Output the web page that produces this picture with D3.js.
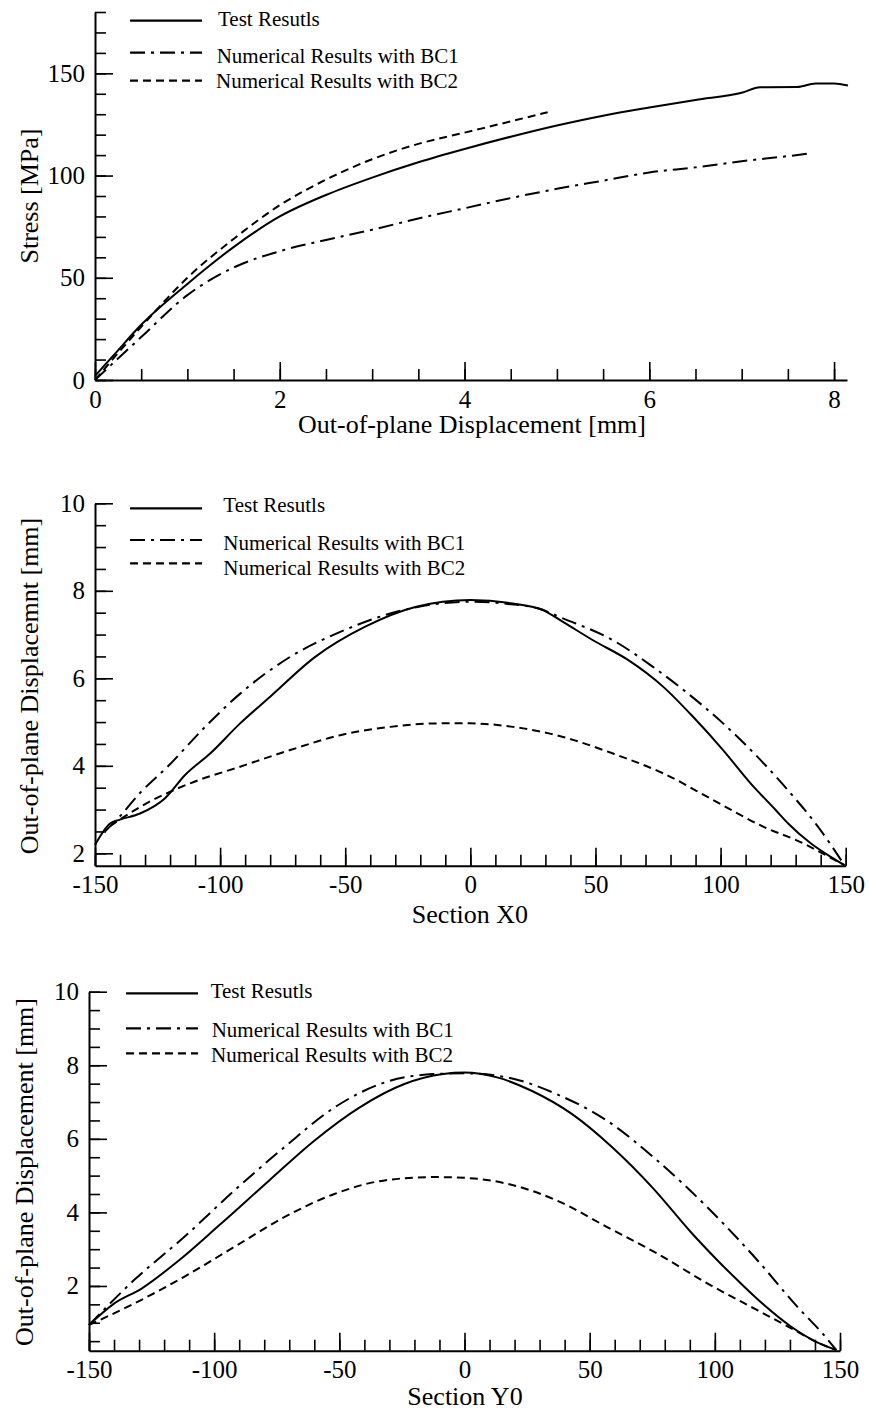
<!DOCTYPE html>
<html>
<head>
<meta charset="utf-8">
<script src="https://cdn.jsdelivr.net/npm/d3@7"></script>
<style>
  body { margin: 0; background: #fff; }
  svg { display: block; background: #fff; }
  text { font-family: "Liberation Serif", "Times New Roman", serif; fill: #000; }
</style>
</head>
<body>
<svg id="chart" width="870" height="1412"></svg>
<script>
// ---- Stress vs. out-of-plane displacement ----
const stressTestX = [0, 0.1, 0.2, 0.5, 1.0, 1.5, 2.0, 2.5, 3.0, 3.5, 4.0, 4.5, 5.0, 5.5, 6.0, 6.5, 7.0, 7.2, 7.6, 7.8, 8.0, 8.15];
const stressTestY = [2, 7, 12, 27, 47, 65, 80, 90.5, 99, 106.5, 113, 119, 124.5, 129.3, 133.3, 137, 140.5, 143.2, 143.3, 145, 145, 144];
const stressBc1X  = [0, 0.5, 1.0, 1.5, 2.0, 2.5, 3.0, 3.5, 4.0, 4.5, 5.0, 5.5, 6.0, 6.5, 7.0, 7.5, 7.77];
const stressBc1Y  = [0, 21, 41.5, 55, 63, 68.5, 73.5, 79, 84, 89, 93.5, 97.5, 101.5, 104, 107, 109.5, 111];
const stressBc2X  = [0, 0.5, 1.0, 1.5, 2.0, 2.5, 3.0, 3.5, 4.0, 4.5, 4.9];
const stressBc2Y  = [0, 26, 50, 69, 85.5, 98, 108, 115.5, 121, 126.5, 131];

// ---- Deflection along section X0 ----
const secX0TestX = [-150, -144, -140, -132, -122, -114, -104, -92, -80, -62, -42, -22, 0, 17, 29, 37, 49, 63, 77, 89, 101, 112, 122, 127, 136, 144, 149.5];
const secX0TestY = [2.19, 2.68, 2.77, 2.91, 3.26, 3.79, 4.28, 4.97, 5.58, 6.49, 7.18, 7.63, 7.79, 7.71, 7.56, 7.29, 6.87, 6.42, 5.81, 5.12, 4.36, 3.6, 2.99, 2.68, 2.23, 1.92, 1.73];
const secX0Bc1X  = [-146, -140, -132, -121, -106, -92, -72, -52, -32, -12, 0, 15, 27, 37, 57, 73, 87, 101, 116, 128, 138, 149.5];
const secX0Bc1Y  = [2.5, 2.85, 3.38, 3.98, 4.89, 5.65, 6.49, 7.06, 7.48, 7.71, 7.75, 7.7, 7.6, 7.37, 6.87, 6.26, 5.65, 4.97, 4.13, 3.37, 2.68, 1.73];
const secX0Bc2X  = [-144, -132, -112, -92, -72, -52, -32, -12, 0, 17, 37, 57, 77, 97, 117, 133, 142, 149.5];
const secX0Bc2Y  = [2.62, 3.06, 3.6, 3.98, 4.36, 4.70, 4.89, 4.97, 4.97, 4.89, 4.66, 4.28, 3.83, 3.22, 2.61, 2.23, 1.96, 1.73];

// ---- Deflection along section Y0 ----
const secY0TestX = [-150, -140, -129, -114, -98, -78, -60, -42, -24, -8.5, 0, 13, 27, 43, 59, 75, 91, 101, 109, 119, 130.5, 140.5, 148.5];
const secY0TestY = [0.94, 1.52, 1.93, 2.70, 3.65, 4.87, 5.95, 6.85, 7.49, 7.76, 7.8, 7.67, 7.3, 6.67, 5.77, 4.68, 3.42, 2.7, 2.16, 1.52, 0.89, 0.48, 0.26];
const secY0Bc1X  = [-150, -132, -112, -92, -72, -52, -32, -12.5, 0, 17, 37, 57, 77, 97, 117, 133, 143, 148.5];
const secY0Bc1Y  = [0.94, 2.16, 3.33, 4.59, 5.77, 6.85, 7.53, 7.76, 7.78, 7.67, 7.21, 6.49, 5.41, 4.14, 2.7, 1.43, 0.71, 0.26];
const secY0Bc2X  = [-150, -132, -112, -92, -72, -52, -32, -12.5, 0, 17, 37, 57, 77, 97, 117, 130.5, 140.5, 148.5];
const secY0Bc2Y  = [0.94, 1.52, 2.25, 3.06, 3.87, 4.5, 4.87, 4.96, 4.94, 4.78, 4.32, 3.6, 2.88, 2.07, 1.34, 0.85, 0.48, 0.26];

// ---- Labels and tick values ----
const seriesNames   = ["Test Resutls", "Numerical Results with BC1", "Numerical Results with BC2"];
const dispMajor     = [0, 2, 4, 6, 8];
const dispMinor     = d3.range(0, 8.01, 0.5);
const stressMajor   = [0, 50, 100, 150];
const stressMinor   = d3.range(0, 181, 10);
const sectionMajor  = [-150, -100, -50, 0, 50, 100, 150];
const sectionMinor  = d3.range(-150, 151, 10);
const deflMajor     = [2, 4, 6, 8, 10];

// line styles: solid, dash-dot, dashed
const dashes = [null, "15,6,3,6", "8,5"];

const svg = d3.select("#chart");

function drawPanel(o) {
  const g = svg.append("g");
  const x = d3.scaleLinear().domain(o.xDomain).range([o.left, o.right]);
  const y = d3.scaleLinear().domain(o.yDomain).range([o.bottom, o.top]);
  const fmt = d => String(d);

  // minor ticks
  g.append("g").attr("transform", `translate(0,${o.bottom})`)
    .call(d3.axisBottom(x).tickValues(o.xMinor).tickSize(-11).tickSizeOuter(0).tickFormat(""))
    .call(s => s.select(".domain").remove());
  g.append("g").attr("transform", `translate(${o.left},0)`)
    .call(d3.axisLeft(y).tickValues(o.yMinor).tickSize(-11).tickSizeOuter(0).tickFormat(""))
    .call(s => s.select(".domain").remove());

  // major ticks with labels
  g.append("g").attr("transform", `translate(0,${o.bottom})`)
    .call(d3.axisBottom(x).tickValues(o.xMajor).tickSize(-18).tickSizeOuter(0).tickPadding(10).tickFormat(fmt))
    .call(s => s.selectAll("text").attr("font-size", 25).attr("font-family", null));
  g.append("g").attr("transform", `translate(${o.left},0)`)
    .call(d3.axisLeft(y).tickValues(o.yMajor).tickSize(-18).tickSizeOuter(0).tickPadding(10).tickFormat(fmt))
    .call(s => s.selectAll("text").attr("font-size", 25).attr("font-family", null));

  g.selectAll(".domain").attr("stroke", "#000").attr("stroke-width", 2);
  g.selectAll(".tick line").attr("stroke", "#000").attr("stroke-width", 1.6);

  // curves
  const line = d3.line().x(d => x(d[0])).y(d => y(d[1])).curve(d3.curveMonotoneX);
  o.series.forEach((s, i) => {
    const pts = s[0].map((v, k) => [v, s[1][k]]);
    g.append("path").datum(pts)
      .attr("d", line)
      .attr("fill", "none")
      .attr("stroke", "#000")
      .attr("stroke-width", 2)
      .attr("stroke-dasharray", dashes[i]);
  });

  // legend
  seriesNames.forEach((name, i) => {
    g.append("line")
      .attr("x1", o.legend.x1).attr("x2", o.legend.x2)
      .attr("y1", o.legend.lineY[i]).attr("y2", o.legend.lineY[i])
      .attr("stroke", "#000").attr("stroke-width", 2.2)
      .attr("stroke-dasharray", dashes[i]);
    g.append("text")
      .attr("x", o.legend.textX[i]).attr("y", o.legend.textY[i])
      .attr("font-size", 21)
      .text(name);
  });

  // axis titles
  g.append("text")
    .attr("x", o.xTitlePos[0]).attr("y", o.xTitlePos[1])
    .attr("text-anchor", "middle").attr("font-size", 26)
    .text(o.xTitle);
  g.append("text")
    .attr("transform", `translate(${o.yTitlePos[0]},${o.yTitlePos[1]}) rotate(-90)`)
    .attr("text-anchor", "middle").attr("font-size", 26)
    .text(o.yTitle);
}

drawPanel({
  left: 95, right: 847, top: 12, bottom: 380,
  xDomain: [0, 8.14], yDomain: [0, 180],
  xMajor: dispMajor, xMinor: dispMinor,
  yMajor: stressMajor, yMinor: stressMinor,
  series: [[stressTestX, stressTestY], [stressBc1X, stressBc1Y], [stressBc2X, stressBc2Y]],
  xTitle: "Out-of-plane Displacement [mm]", xTitlePos: [472, 433],
  yTitle: "Stress [MPa]", yTitlePos: [38, 196],
  legend: { x1: 130, x2: 202, lineY: [20.7, 52.7, 80.7], textX: [218, 216.7, 216], textY: [26, 63.3, 88.3] }
});

drawPanel({
  left: 95, right: 845.7, top: 503.3, bottom: 865.7,
  xDomain: [-150, 150], yDomain: [1.717, 10],
  xMajor: sectionMajor, xMinor: sectionMinor,
  yMajor: deflMajor, yMinor: d3.range(2, 10.01, 0.5),
  series: [[secX0TestX, secX0TestY], [secX0Bc1X, secX0Bc1Y], [secX0Bc2X, secX0Bc2Y]],
  xTitle: "Section X0", xTitlePos: [470, 923],
  yTitle: "Out-of-plane Displacemnt [mm]", yTitlePos: [38, 686],
  legend: { x1: 130, x2: 202, lineY: [508.3, 540, 563.3], textX: [223.3, 223.3, 223.3], textY: [511.7, 550, 575] }
});

drawPanel({
  left: 89, right: 840, top: 991.7, bottom: 1350.7,
  xDomain: [-150, 150], yDomain: [0.24, 10],
  xMajor: sectionMajor, xMinor: sectionMinor,
  yMajor: deflMajor, yMinor: d3.range(0.5, 10.01, 0.5),
  series: [[secY0TestX, secY0TestY], [secY0Bc1X, secY0Bc1Y], [secY0Bc2X, secY0Bc2Y]],
  xTitle: "Section Y0", xTitlePos: [465, 1405],
  yTitle: "Out-of-plane Displacement [mm]", yTitlePos: [33, 1172],
  legend: { x1: 126, x2: 198, lineY: [993.3, 1028.3, 1053.3], textX: [210.7, 211.7, 211], textY: [998.3, 1036.7, 1061.7] }
});
</script>
</body>
</html>
